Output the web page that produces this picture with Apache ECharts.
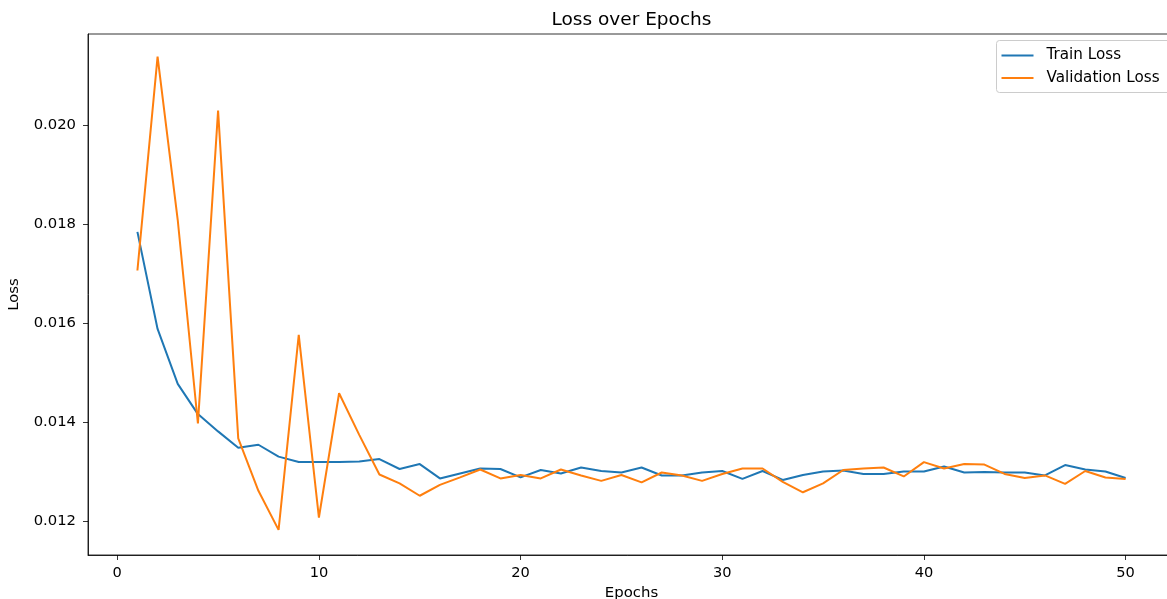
<!DOCTYPE html>
<html>
<head>
<meta charset="utf-8">
<script src="https://cdn.jsdelivr.net/npm/echarts@6/dist/echarts.min.js"></script>
<style>
html,body{margin:0;padding:0;background:#fff;}
#chart{width:1167px;height:599px;}
</style>
</head>
<body>
<div id="chart"></div>
<script>
const epochs = Array.from({length: 50}, (_, i) => i + 1);
const trainLoss = [
  0.01784, 0.01588, 0.01477, 0.01416, 0.01381, 0.01348, 0.01354, 0.01330, 0.01319, 0.01319,
  0.01319, 0.01320, 0.01325, 0.01305, 0.01315, 0.01286, 0.01296, 0.01306, 0.01305, 0.01288,
  0.01303, 0.01296, 0.01308, 0.01301, 0.01298, 0.01308, 0.01292, 0.01292, 0.01298, 0.01301,
  0.01285, 0.01301, 0.01283, 0.01293, 0.01300, 0.01302, 0.01295, 0.01295, 0.01300, 0.01300,
  0.01310, 0.01298, 0.01299, 0.01298, 0.01298, 0.01292, 0.01313, 0.01304, 0.01300, 0.01287
];
const valLoss = [
  0.01706, 0.02138, 0.01808, 0.01397, 0.02029, 0.01367, 0.01261, 0.01182, 0.01576, 0.01207,
  0.01458, 0.01374, 0.01294, 0.01276, 0.01251, 0.01273, 0.01288, 0.01304, 0.01286, 0.01293,
  0.01286, 0.01304, 0.01292, 0.01281, 0.01293, 0.01278, 0.01298, 0.01292, 0.01281, 0.01295,
  0.01306, 0.01306, 0.01279, 0.01258, 0.01276, 0.01303, 0.01306, 0.01308, 0.01290, 0.01319,
  0.01306, 0.01315, 0.01314, 0.01295, 0.01287, 0.01292, 0.01275, 0.01301, 0.01288, 0.01285
];
const xTicks = [0, 10, 20, 30, 40, 50];
const yTicks = [0.012, 0.014, 0.016, 0.018, 0.020];
const seriesNames = ['Train Loss', 'Validation Loss'];

const FONT = 'DejaVu Sans';
const chart = echarts.init(document.getElementById('chart'), null, {renderer: 'canvas'});
chart.setOption({
  animation: false,
  backgroundColor: '#ffffff',
  textStyle: {fontFamily: FONT, color: '#000'},
  title: {
    text: 'Loss over Epochs',
    left: 631.5,
    top: 10.5,
    padding: 0,
    textAlign: 'center',
    textStyle: {fontFamily: FONT, fontSize: 18.5, fontWeight: 'normal', color: '#000'}
  },
  legend: {
    orient: 'vertical',
    left: 996.5,
    top: 40.5,
    padding: [7, 12, 6.5, 5],
    itemGap: 6.5,
    itemWidth: 32,
    itemHeight: 2,
    icon: 'rect',
    borderColor: '#cccccc',
    borderWidth: 1,
    borderRadius: 3,
    backgroundColor: 'rgba(255,255,255,0.8)',
    textStyle: {fontFamily: FONT, fontSize: 15.2, color: '#000', lineHeight: 16, padding: [0, 0, 0, 8]},
    data: seriesNames
  },
  grid: {
    left: 88, right: -8, top: 34, bottom: 44,
    show: true, borderColor: '#000', borderWidth: 0.8,
    containLabel: false, outerBoundsMode: 'none'
  },
  xAxis: {
    type: 'value',
    min: -1.45,
    max: 52.45,
    name: 'Epochs',
    nameLocation: 'middle',
    nameGap: 30,
    nameTextStyle: {fontFamily: FONT, fontSize: 14.9, color: '#000'},
    axisLine: {show: true, onZero: false, lineStyle: {color: '#000', width: 0.8}},
    axisTick: {show: true, inside: false, length: 5, lineStyle: {color: '#000', width: 0.8}, customValues: xTicks},
    axisLabel: {margin: 11, fontFamily: FONT, fontSize: 14.6, color: '#000', customValues: xTicks,
      formatter: v => String(v)},
    splitLine: {show: false}
  },
  yAxis: {
    type: 'value',
    min: 0.011313,
    max: 0.021838,
    name: 'Loss',
    nameLocation: 'middle',
    nameGap: 66,
    nameTextStyle: {fontFamily: FONT, fontSize: 14.9, color: '#000'},
    axisLine: {show: true, onZero: false, lineStyle: {color: '#000', width: 0.8}},
    axisTick: {show: true, inside: false, length: 5, lineStyle: {color: '#000', width: 0.8}, customValues: yTicks},
    axisLabel: {margin: 12, fontFamily: FONT, fontSize: 14.8, color: '#000', customValues: yTicks,
      formatter: v => v.toFixed(3)},
    splitLine: {show: false}
  },
  series: [
    {
      name: seriesNames[0],
      type: 'line',
      data: epochs.map((e, i) => [e, trainLoss[i]]),
      symbol: 'none',
      showSymbol: false,
      color: '#1f77b4',
      lineStyle: {color: '#1f77b4', width: 2},
      z: 2
    },
    {
      name: seriesNames[1],
      type: 'line',
      data: epochs.map((e, i) => [e, valLoss[i]]),
      symbol: 'none',
      showSymbol: false,
      color: '#ff7f0e',
      lineStyle: {color: '#ff7f0e', width: 2},
      z: 3
    }
  ]
});
</script>
</body>
</html>
